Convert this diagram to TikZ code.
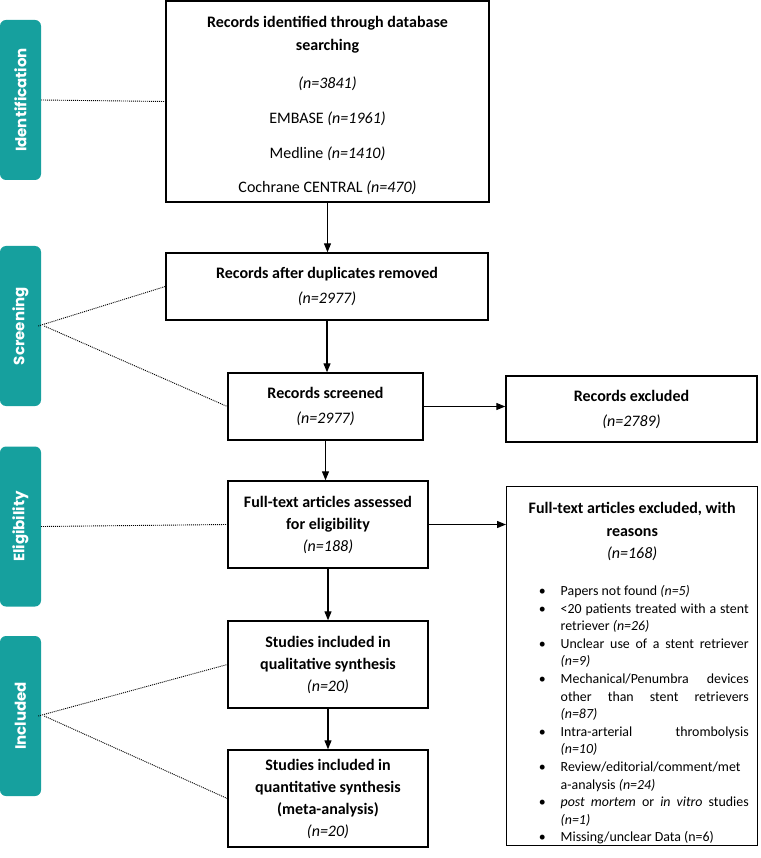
\documentclass[tikz,border=0pt]{standalone}
\usepackage{fontspec}
\setmainfont{Carlito}
\newfontfamily\barfont{Poppins}
\usetikzlibrary{arrows.meta}
\definecolor{barteal}{RGB}{22,160,158}
\begin{document}
\begin{tikzpicture}[x=1pt,y=-1pt,
  box/.style={draw=black, line width=1.4pt, fill=white, inner sep=0pt, align=center},
  fs25/.style={font=\fontsize{16}{25}\selectfont},
  fs22/.style={font=\fontsize{16}{22}\selectfont},
  bar/.style={fill=barteal, rounded corners=6pt, minimum width=160pt, minimum height=41pt,
     inner sep=0pt, text=white, font=\barfont\bfseries\fontsize{15}{15}\selectfont, rotate=90},
  dotline/.style={line width=0.9pt, dash pattern=on 1pt off 1pt},
  arrow/.style={-{Triangle[length=9pt,width=7pt]}, line width=1.2pt}]
\useasboundingbox (0,0) rectangle (760,858);

% phase bars
\node[bar] (idb) at (20.5,100) {Identification};
\node[bar] (scb) at (20.5,326) {Screening};
\node[bar] (elb) at (20.5,526.5) {Eligibility};
\node[bar] (inb) at (20.5,716) {Included};

% boxes
\node[box, font=\fontsize{16}{23}\selectfont, minimum width=323pt, minimum height=201pt] (b1) at (327.5,101.5)
  {\mbox{}\\[-4pt]\textbf{Records identified through database}\\\textbf{searching}\\[15pt]\textit{(n=3841)}\\[12pt]EMBASE \textit{(n=1961)}\\[12pt]Medline \textit{(n=1410)}\\[11pt]Cochrane CENTRAL \textit{(n=470)}};
\node[box, fs25, minimum width=322pt, minimum height=67pt] (b2) at (327,286.5)
  {\textbf{Records after duplicates removed}\\\textit{(n=2977)}};
\node[box, fs25, minimum width=195pt, minimum height=67pt] (b3) at (325.5,406.5)
  {\textbf{Records screened}\\\textit{(n=2977)}};
\node[box, fs25, minimum width=251pt, minimum height=66pt] (ex) at (631.5,409)
  {\textbf{Records excluded}\\\textit{(n=2789)}};
\node[box, fs22, minimum width=200pt, minimum height=87pt] (b4) at (328,524.5)
  {\textbf{Full-text articles assessed}\\\textbf{for eligibility}\\\textit{(n=188)}};
\node[box, fs22, minimum width=200pt, minimum height=87pt] (b5) at (328,664.5)
  {\textbf{Studies included in}\\\textbf{qualitative synthesis}\\\textit{(n=20)}};
\node[box, fs22, minimum width=200pt, minimum height=97pt] (b6) at (328,798.5)
  {\textbf{Studies included in}\\\textbf{quantitative synthesis}\\\textbf{(meta-analysis)}\\\textit{(n=20)}};

\node[draw=black, line width=1.4pt, fill=white, inner sep=0pt, anchor=north west] (rb) at (506,486)
  {\begin{minipage}[t][359pt][t]{251pt}
   \hyphenpenalty=10000 \exhyphenpenalty=10000 \sloppy
   \vspace*{16pt}
   {\centering\fontsize{16}{22.5}\selectfont\textbf{Full-text articles excluded, with}\\\textbf{reasons}\\\textit{(n=168)}\par}
   \vspace{19pt}
   {\fontsize{13.9}{17.6}\selectfont
   \begin{list}{\textbullet}{\setlength\leftmargin{54pt}\setlength\rightmargin{9pt}%
     \setlength\labelsep{15pt}\setlength\labelwidth{20pt}\setlength\itemsep{0pt}%
     \setlength\parsep{0pt}\setlength\topsep{0pt}\setlength\partopsep{0pt}\setlength\itemindent{0pt}}
   \item Papers not found \textit{(n=5)}
   \item <20 patients treated with a stent\linebreak retriever \textit{(n=26)}
   \item Unclear use of a stent retriever\linebreak \textit{(n=9)}
   \item Mechanical/Penumbra devices\linebreak other than stent retrievers\linebreak \textit{(n=87)}
   \item Intra-arterial thrombolysis\linebreak \textit{(n=10)}
   \item Review/editorial/comment/met\newline a-analysis \textit{(n=24)}
   \item \textit{post mortem} or \textit{in vitro} studies\linebreak \textit{(n=1)}
   \item Missing/unclear Data (n=6)
   \end{list}\par}
   \end{minipage}};

% arrows
\draw[arrow] (b1.south) -- (b1.south |- b2.north);
\draw[arrow] (b2.south) -- (b2.south |- b3.north);
\draw[arrow] (b3.east) -- (b3.east -| ex.west);
\draw[arrow] (b3.south) -- (b3.south |- b4.north);
\draw[arrow] (b4.east) -- (b4.east -| rb.west);
\draw[arrow] (b4.south) -- (b4.south |- b5.north);
\draw[arrow] (b5.south) -- (b5.south |- b6.north);

% dotted phase links
\draw[dotline] (idb.south) -- (b1.west);
\draw[dotline] ([xshift=-3pt]scb.south) -- (b2.west);
\draw[dotline] ([xshift=3pt]scb.south) -- (b3.west);
\draw[dotline] (elb.south) -- (b4.west);
\draw[dotline] ([xshift=-3pt]inb.south) -- (b5.west);
\draw[dotline] ([xshift=3pt]inb.south) -- (b6.west);
\end{tikzpicture}
\end{document}
